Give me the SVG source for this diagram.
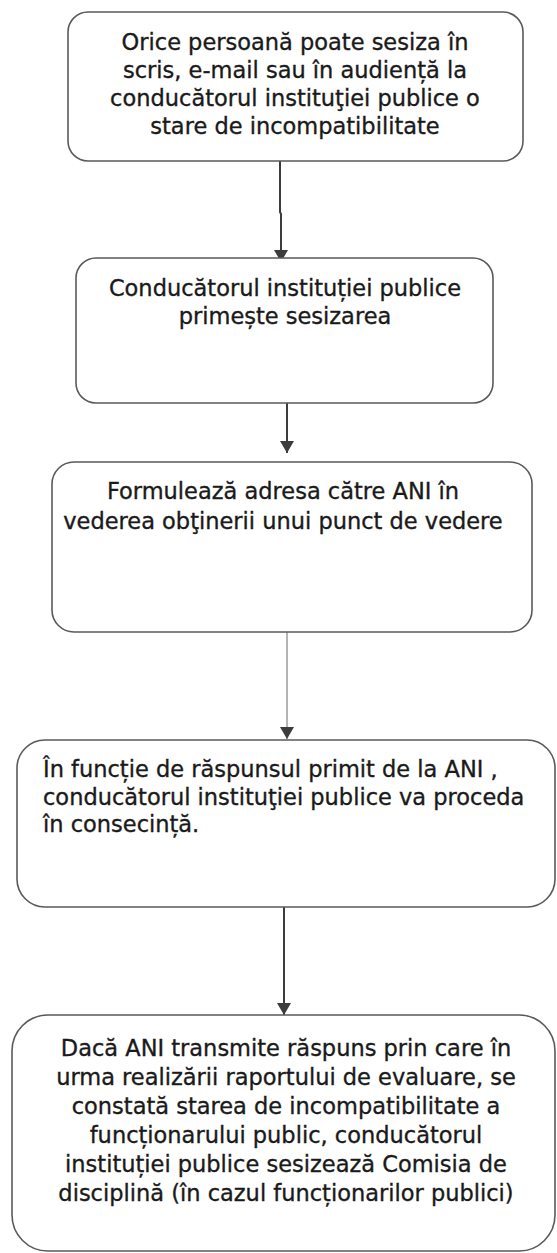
<svg xmlns="http://www.w3.org/2000/svg" width="557" height="1253" viewBox="0 0 557 1253">
<defs>
<style>
.box{fill:#ffffff;stroke:#5a5a5a;stroke-width:1.6}
.t{font-family:"DejaVu Sans","Noto Sans",sans-serif;font-size:22.5px;fill:#1a1a1a;stroke:#1a1a1a;stroke-width:0.35}
.c{text-anchor:middle}
.conn{fill:none;stroke:#3c3c3c;stroke-width:2}
.thin{fill:none;stroke:#6a6a6a;stroke-width:1}
</style>
<marker id="arr" markerUnits="userSpaceOnUse" markerWidth="16" markerHeight="16" refX="12" refY="7" orient="auto">
<path d="M0,0 L12,7 L0,14 Z" fill="#3c3c3c"/>
</marker>
</defs>
<rect width="557" height="1253" fill="#ffffff"/>
<g id="connectors">
<path class="conn" d="M280,161 L280,212 L281,214 L281,262" marker-end="url(#arr)"/>
<path class="conn" d="M287,403 L287,453" marker-end="url(#arr)"/>
<path class="thin" d="M287,632 L287,739" marker-end="url(#arr)"/>
<path class="conn" d="M284,907 L284,1015" marker-end="url(#arr)"/>
</g>
<g id="node1">
<rect class="box" x="68" y="12" width="455" height="149" rx="20"/>
<text class="t c" x="295" y="50">Orice persoană poate sesiza în</text>
<text class="t c" x="295" y="78">scris, e-mail sau în audiență la</text>
<text class="t c" x="295" y="106">conducătorul instituţiei publice o</text>
<text class="t c" x="295" y="134">stare de incompatibilitate</text>
</g>
<g id="node2">
<rect class="box" x="76" y="258" width="417" height="145" rx="20"/>
<text class="t c" x="285" y="296">Conducătorul instituției publice</text>
<text class="t c" x="285" y="324">primește sesizarea</text>
</g>
<g id="node3">
<rect class="box" x="52" y="462" width="480" height="170" rx="22"/>
<text class="t c" x="283" y="499">Formulează adresa către ANI în</text>
<text class="t c" x="283" y="529">vederea obţinerii unui punct de vedere</text>
</g>
<g id="node4">
<rect class="box" x="17" y="740" width="538" height="167" rx="28"/>
<text class="t" x="43" y="777">În funcție de răspunsul primit de la ANI ,</text>
<text class="t" x="43" y="805">conducătorul instituţiei publice va proceda</text>
<text class="t" x="43" y="832">în consecință.</text>
</g>
<g id="node5">
<rect class="box" x="12" y="1015" width="543" height="236" rx="36"/>
<text class="t c" x="286" y="1056">Dacă ANI transmite răspuns prin care în</text>
<text class="t c" x="286" y="1085">urma realizării raportului de evaluare, se</text>
<text class="t c" x="286" y="1114">constată starea de incompatibilitate a</text>
<text class="t c" x="286" y="1143">funcționarului public, conducătorul</text>
<text class="t c" x="286" y="1172">instituției publice sesizează Comisia de</text>
<text class="t c" x="286" y="1201">disciplină (în cazul funcționarilor publici)</text>
</g>
</svg>
